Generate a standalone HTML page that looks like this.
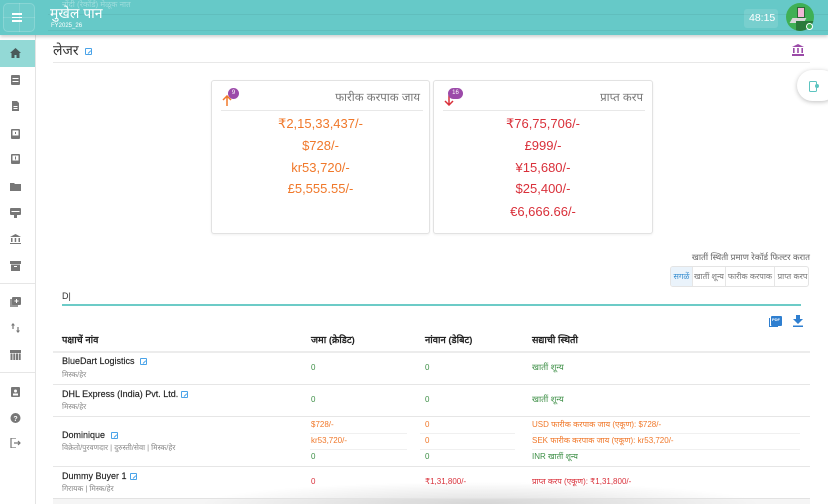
<!DOCTYPE html>
<html>
<head>
<meta charset="utf-8">
<style>
*{margin:0;padding:0;box-sizing:border-box;}
html,body{width:828px;height:504px;overflow:hidden;background:#fff;font-family:"Liberation Sans","DejaVu Sans",sans-serif;}
#w{position:relative;width:828px;height:504px;overflow:hidden;}
.a{position:absolute;}
.t{position:absolute;white-space:nowrap;line-height:1;}
.hdr{left:0;top:0;width:828px;height:35px;background:#66c9c8;box-shadow:0 2px 3px rgba(0,0,0,0.18);z-index:5;}
.side{left:0;top:35px;width:36px;height:469px;background:#fff;border-right:1px solid #e4e4e4;}
.ic{position:absolute;left:10px;width:11px;height:10px;}
.card{position:absolute;border:1px solid #e2e2e2;border-radius:3px;background:#fff;box-shadow:0 1px 2px rgba(0,0,0,0.06);}
.cv{position:absolute;left:0;width:100%;text-align:center;font-size:13px;line-height:1;}
.or{color:#f0782a;}
.rd{color:#d9303a;}
.gr{color:#3d8f46;}
.nm{font-size:9px;color:#222;-webkit-text-stroke:0.15px #222;}
.sub{font-size:7.5px;color:#888;}
.v{font-size:8px;}
.ed{position:absolute;width:7px;height:7px;border:1px solid #4aa3e8;border-radius:1px;}
.ed:after{content:"";position:absolute;left:2px;width:4px;height:1px;background:#4aa3e8;transform:rotate(-45deg);transform-origin:left;top:4px;}
.hl{position:absolute;height:1px;background:#e6e6e6;}
.btn{position:absolute;top:0;height:20px;font-size:8px;color:#777;text-align:center;line-height:20px;border-right:1px solid #e6e6e6;}
.th{font-size:9.5px;color:#222;font-weight:bold;}
</style>
</head>
<body>
<div id="w">
<!-- header -->
<div class="a hdr">
  <div class="a" style="left:3px;top:3px;width:32px;height:29px;border:1px solid rgba(255,255,255,0.18);border-radius:5px;background:rgba(255,255,255,0.06);"></div>
  <div class="a" style="left:19px;top:3px;width:1px;height:29px;background:rgba(255,255,255,0.15);"></div>
  <div class="a" style="left:3px;top:17px;width:32px;height:1px;background:rgba(255,255,255,0.15);"></div>
  <div class="a" style="left:48px;top:14px;width:780px;height:1px;background:rgba(0,0,0,0.05);"></div>
  <div class="a" style="left:48px;top:30px;width:780px;height:1px;background:rgba(0,0,0,0.05);"></div>
  <div class="a" style="left:12px;top:13px;width:10px;height:1.5px;background:#fff;"></div>
  <div class="a" style="left:12px;top:16.5px;width:10px;height:1.5px;background:#fff;"></div>
  <div class="a" style="left:12px;top:20px;width:10px;height:1.5px;background:#fff;"></div>
  <div class="t" style="left:62px;top:1px;font-size:8px;color:rgba(255,255,255,0.35);">नोंदी (रेकॉर्ड) मेळूक नात</div>
  <div class="t" style="left:50px;top:6px;font-size:14px;color:#fff;">मुखेल पान</div>
  <div class="t" style="left:51px;top:23px;font-size:6px;color:#fff;">FY2025_26</div>
  <div class="a" style="left:744px;top:9px;width:34px;height:19px;background:rgba(255,255,255,0.12);border-radius:3px;"></div>
  <div class="t" style="left:749px;top:13px;font-size:10.5px;color:#fff;">48:15</div>
  <div class="a" style="left:786px;top:3px;width:28px;height:28px;border-radius:50%;background:#3fb055;overflow:hidden;">
    <div class="a" style="left:11px;top:4px;width:8px;height:11px;background:#f1b7d6;border:1px solid #2a6b35;"></div>
    <div class="a" style="left:5px;top:15px;width:14px;height:5px;background:#d8d8d8;transform:skewX(-30deg);"></div>
    <div class="a" style="left:10px;top:18px;width:18px;height:10px;background:#2a7a3a;"></div>
  </div>
  <div class="a" style="left:806px;top:23px;width:7px;height:7px;border-radius:50%;border:1.5px solid #fff;background:#3fb055;"></div>
</div>

<!-- sidebar -->
<div class="a side">
  <div class="a" style="left:0;top:5px;width:35px;height:27px;background:#93d9d6;"></div>
  <svg class="ic" style="top:13px" viewBox="0 0 11 10"><path d="M5.5 0 L11 5 L9.5 5 L9.5 10 L6.5 10 L6.5 7 L4.5 7 L4.5 10 L1.5 10 L1.5 5 L0 5 Z" fill="#4a5a5a"/></svg>
  <svg class="ic" style="top:40px" viewBox="0 0 11 10"><rect x="1" y="0" width="9" height="10" rx="1" fill="#777"/><rect x="2.5" y="3" width="6" height="1" fill="#fff"/><rect x="2.5" y="6" width="6" height="1" fill="#fff"/></svg>
  <svg class="ic" style="top:66px" viewBox="0 0 11 10"><path d="M2 0 H7 L9 2 V10 H2 Z" fill="#777"/><rect x="3.5" y="5" width="4" height="1" fill="#fff"/><rect x="3.5" y="7" width="4" height="1" fill="#fff"/></svg>
  <svg class="ic" style="top:94px" viewBox="0 0 11 10"><rect x="1" y="0" width="9" height="10" rx="1" fill="#777"/><rect x="2.5" y="1.5" width="6" height="5" fill="#fff"/><rect x="5" y="3" width="1" height="2" fill="#777"/></svg>
  <svg class="ic" style="top:119px" viewBox="0 0 11 10"><rect x="1" y="0" width="9" height="10" rx="1" fill="#777"/><rect x="2.5" y="1.5" width="6" height="5" fill="#fff"/><rect x="5" y="2.5" width="1" height="3" fill="#777"/></svg>
  <svg class="ic" style="top:147px" viewBox="0 0 11 10"><path d="M0 1 H4 L5 2 H11 V9 H0 Z" fill="#777"/></svg>
  <svg class="ic" style="top:173px" viewBox="0 0 11 10"><rect x="0" y="0" width="11" height="7" rx="1" fill="#777"/><rect x="1.5" y="3" width="8" height="1" fill="#fff"/><rect x="4" y="7" width="3" height="3" fill="#777"/></svg>
  <svg class="ic" style="top:199px" viewBox="0 0 11 10"><path d="M5.5 0 L11 3 H0 Z" fill="#777"/><rect x="1" y="4" width="1.5" height="4" fill="#777"/><rect x="4.7" y="4" width="1.5" height="4" fill="#777"/><rect x="8.5" y="4" width="1.5" height="4" fill="#777"/><rect x="0" y="9" width="11" height="1" fill="#777"/></svg>
  <svg class="ic" style="top:226px" viewBox="0 0 11 10"><rect x="0" y="0" width="11" height="3" fill="#777"/><rect x="1" y="3.5" width="9" height="6.5" fill="#777"/><rect x="4" y="5" width="3" height="1" fill="#fff"/></svg>
  <div class="a" style="left:0;top:248px;width:35px;height:1px;background:#e6e6e6;"></div>
  <svg class="ic" style="top:262px" viewBox="0 0 11 10"><rect x="0" y="2" width="8" height="8" fill="#999"/><rect x="2" y="0" width="9" height="8" rx="1" fill="#777"/><rect x="6" y="2" width="1" height="4" fill="#fff"/><rect x="4.5" y="3.5" width="4" height="1" fill="#fff"/></svg>
  <svg class="ic" style="top:288px" viewBox="0 0 11 10"><path d="M3 0 L5 2.5 H3.6 V6 H2.4 V2.5 H1 Z M8 10 L6 7.5 H7.4 V4 H8.6 V7.5 H10 Z" fill="#777"/></svg>
  <svg class="ic" style="top:315px" viewBox="0 0 11 10"><rect x="0" y="0" width="11" height="3" fill="#777"/><rect x="0.5" y="3.5" width="2" height="6.5" fill="#777"/><rect x="3.3" y="3.5" width="2" height="6.5" fill="#777"/><rect x="6" y="3.5" width="2" height="6.5" fill="#777"/><rect x="8.7" y="3.5" width="2" height="6.5" fill="#777"/></svg>
  <div class="a" style="left:0;top:337px;width:35px;height:1px;background:#e6e6e6;"></div>
  <svg class="ic" style="top:352px" viewBox="0 0 11 10"><rect x="1" y="0" width="9" height="10" rx="1" fill="#777"/><circle cx="5.5" cy="4" r="1.5" fill="#fff"/><rect x="3" y="6.5" width="5" height="2" fill="#fff"/></svg>
  <svg class="ic" style="top:378px" viewBox="0 0 11 10"><circle cx="5.5" cy="5" r="5" fill="#777"/><text x="5.5" y="8" font-size="7" fill="#fff" text-anchor="middle" font-family="Liberation Sans" font-weight="bold">?</text></svg>
  <svg class="ic" style="top:403px" viewBox="0 0 11 10"><path d="M6 0 H1 V10 H6" stroke="#777" stroke-width="1.2" fill="none"/><path d="M4 5 H10 M8 3 L10 5 L8 7" stroke="#777" stroke-width="1.2" fill="none"/></svg>
</div>

<!-- title row -->
<div class="t" style="left:53px;top:43px;font-size:14px;color:#333;">लेजर</div>
<div class="ed" style="left:85px;top:48px;"></div>
<svg class="a" style="left:792px;top:44px;width:12px;height:12px" viewBox="0 0 12 12"><path d="M6 0 L12 3 H0 Z" fill="#9b4aa8"/><rect x="1" y="4" width="1.6" height="5" fill="#9b4aa8"/><rect x="5.2" y="4" width="1.6" height="5" fill="#9b4aa8"/><rect x="9.4" y="4" width="1.6" height="5" fill="#9b4aa8"/><rect x="0" y="10" width="12" height="2" fill="#9b4aa8"/></svg>
<div class="hl" style="left:53px;top:62px;width:757px;background:#e8e8e8;"></div>

<!-- floating right button -->
<div class="a" style="left:797px;top:70px;width:40px;height:31px;border-radius:16px;background:#fff;box-shadow:0 1px 5px rgba(0,0,0,0.25);"></div>
<div class="a" style="left:809px;top:81px;width:8px;height:11px;border:1.5px solid #5cc4c0;border-radius:1.5px;"></div>
<div class="a" style="left:815px;top:84px;width:4px;height:4px;border-radius:50%;background:#5cc4c0;"></div>

<!-- cards -->
<div class="card" style="left:211px;top:80px;width:219px;height:154px;">
  <div class="hl" style="left:9px;top:29px;width:202px;background:#e8e8e8;"></div>
  <div class="t" style="right:9px;top:12px;font-size:11.5px;color:#777;">फारीक करपाक जाय</div>
  <svg class="a" style="left:10px;top:14px;width:10px;height:11px" viewBox="0 0 10 11"><path d="M5 11 V1 M1 5 L5 1 L9 5" stroke="#f0782a" stroke-width="1.5" fill="none"/></svg>
  <div class="a" style="left:16px;top:7px;width:11px;height:11px;border-radius:50%;background:#9c4aa9;color:#fff;font-size:6px;text-align:center;line-height:11px;">9</div>
  <div class="cv or" style="top:36px;">₹2,15,33,437/-</div>
  <div class="cv or" style="top:58px;">$728/-</div>
  <div class="cv or" style="top:80px;">kr53,720/-</div>
  <div class="cv or" style="top:101px;">£5,555.55/-</div>
</div>
<div class="card" style="left:433px;top:80px;width:220px;height:154px;">
  <div class="hl" style="left:9px;top:29px;width:202px;background:#e8e8e8;"></div>
  <div class="t" style="right:9px;top:12px;font-size:11.5px;color:#777;">प्राप्त करप</div>
  <svg class="a" style="left:10px;top:14px;width:10px;height:11px" viewBox="0 0 10 11"><path d="M5 0 V10 M1 6 L5 10 L9 6" stroke="#d9303a" stroke-width="1.5" fill="none"/></svg>
  <div class="a" style="left:14px;top:7px;width:15px;height:11px;border-radius:6px;background:#9c4aa9;color:#fff;font-size:6px;text-align:center;line-height:11px;">16</div>
  <div class="cv rd" style="top:36px;">₹76,75,706/-</div>
  <div class="cv rd" style="top:58px;">£999/-</div>
  <div class="cv rd" style="top:80px;">¥15,680/-</div>
  <div class="cv rd" style="top:101px;">$25,400/-</div>
  <div class="cv rd" style="top:124px;">€6,666.66/-</div>
</div>

<!-- filter -->
<div class="t" style="right:18px;top:253px;font-size:8.5px;color:#666;">खातीं स्थिती प्रमाण रेकॉर्ड फिल्टर करात</div>
<div class="a" style="left:670px;top:266px;width:139px;height:21px;border:1px solid #e4e4e4;border-radius:3px;overflow:hidden;">
  <div class="btn" style="left:0;width:22px;background:#eaf3fb;color:#3a8fd0;">सगळें</div>
  <div class="btn" style="left:22px;width:33px;">खातीं शून्य</div>
  <div class="btn" style="left:55px;width:49px;">फारीक करपाक</div>
  <div class="btn" style="left:104px;width:35px;border-right:none;">प्राप्त करप</div>
</div>

<!-- search input -->
<div class="t" style="left:62px;top:292px;font-size:9px;color:#333;">D|</div>
<div class="a" style="left:62px;top:304px;width:739px;height:1.5px;background:#6ccbc7;"></div>

<!-- pdf / download -->
<div class="a" style="left:771px;top:316px;width:11px;height:10px;background:#2f7fd0;border-radius:1px;"></div>
<div class="a" style="left:769px;top:318px;width:9px;height:9px;border-left:1.5px solid #2f7fd0;border-bottom:1.5px solid #2f7fd0;"></div>
<div class="t" style="left:772px;top:318px;font-size:4px;color:#fff;font-weight:bold;">PDF</div>
<svg class="a" style="left:793px;top:315px;width:10px;height:12px" viewBox="0 0 10 12"><path d="M3 0 H7 V4 H10 L5 9 L0 4 H3 Z" fill="#2f7fd0"/><rect x="0" y="10.5" width="10" height="1.5" fill="#2f7fd0"/></svg>

<!-- table header -->
<div class="t th" style="left:62px;top:336px;">पक्षाचें नांव</div>
<div class="t th" style="left:311px;top:336px;">जमा (क्रेडिट)</div>
<div class="t th" style="left:425px;top:336px;">नांवान (डेबिट)</div>
<div class="t th" style="left:532px;top:336px;">सद्याची स्थिती</div>
<div class="hl" style="left:53px;top:351px;width:757px;height:2px;background:#ececec;"></div>

<!-- row 1 -->
<div class="t nm" style="left:62px;top:357px;">BlueDart Logistics</div>
<div class="ed" style="left:140px;top:358px;"></div>
<div class="t sub" style="left:62px;top:371px;">मिस्क/हेर</div>
<div class="t v gr" style="left:311px;top:364px;">0</div>
<div class="t v gr" style="left:425px;top:364px;">0</div>
<div class="t v gr" style="left:532px;top:363px;font-size:8.5px;">खातीं शून्य</div>
<div class="hl" style="left:53px;top:384px;width:757px;"></div>

<!-- row 2 -->
<div class="t nm" style="left:62px;top:390px;">DHL Express (India) Pvt. Ltd.</div>
<div class="ed" style="left:181px;top:391px;"></div>
<div class="t sub" style="left:62px;top:403px;">मिस्क/हेर</div>
<div class="t v gr" style="left:311px;top:396px;">0</div>
<div class="t v gr" style="left:425px;top:396px;">0</div>
<div class="t v gr" style="left:532px;top:395px;font-size:8.5px;">खातीं शून्य</div>
<div class="hl" style="left:53px;top:416px;width:757px;"></div>

<!-- row 3 -->
<div class="t nm" style="left:62px;top:431px;">Dominique</div>
<div class="ed" style="left:111px;top:432px;"></div>
<div class="t sub" style="left:62px;top:444px;">विक्रेतो/पुरवणदार | दुरुस्ती/सेवा | मिस्क/हेर</div>
<div class="t v or" style="left:311px;top:421px;">$728/-</div>
<div class="t v or" style="left:425px;top:421px;">0</div>
<div class="t v or" style="left:532px;top:421px;">USD फारीक करपाक जाय (एकूण): $728/-</div>
<div class="hl" style="left:310px;top:433px;width:97px;background:#f0f0f0;"></div>
<div class="hl" style="left:420px;top:433px;width:95px;background:#f0f0f0;"></div>
<div class="hl" style="left:532px;top:433px;width:268px;background:#f0f0f0;"></div>
<div class="t v or" style="left:311px;top:437px;">kr53,720/-</div>
<div class="t v or" style="left:425px;top:437px;">0</div>
<div class="t v or" style="left:532px;top:437px;">SEK फारीक करपाक जाय (एकूण): kr53,720/-</div>
<div class="hl" style="left:310px;top:449px;width:97px;background:#f0f0f0;"></div>
<div class="hl" style="left:420px;top:449px;width:95px;background:#f0f0f0;"></div>
<div class="hl" style="left:532px;top:449px;width:268px;background:#f0f0f0;"></div>
<div class="t v gr" style="left:311px;top:453px;">0</div>
<div class="t v gr" style="left:425px;top:453px;">0</div>
<div class="t v gr" style="left:532px;top:453px;">INR खातीं शून्य</div>
<div class="hl" style="left:53px;top:466px;width:757px;"></div>

<!-- row 4 -->
<div class="t nm" style="left:62px;top:472px;">Dummy Buyer 1</div>
<div class="ed" style="left:130px;top:473px;"></div>
<div class="t sub" style="left:62px;top:485px;">गिरायक | मिस्क/हेर</div>
<div class="t v rd" style="left:311px;top:478px;">0</div>
<div class="t v rd" style="left:425px;top:478px;">₹1,31,800/-</div>
<div class="t v rd" style="left:532px;top:478px;">प्राप्त करप (एकूण): ₹1,31,800/-</div>

<!-- bottom shadow -->
<div class="a" style="left:200px;top:482px;width:560px;height:22px;background:radial-gradient(ellipse 50% 100% at 50% 100%, rgba(0,0,0,0.13), rgba(0,0,0,0) 100%);"></div>
<div class="hl" style="left:53px;top:498px;width:757px;background:#e2e2e2;"></div>
<div class="a" style="left:53px;top:499px;width:757px;height:5px;background:rgba(0,0,0,0.04);"></div>
</div>
</body>
</html>
